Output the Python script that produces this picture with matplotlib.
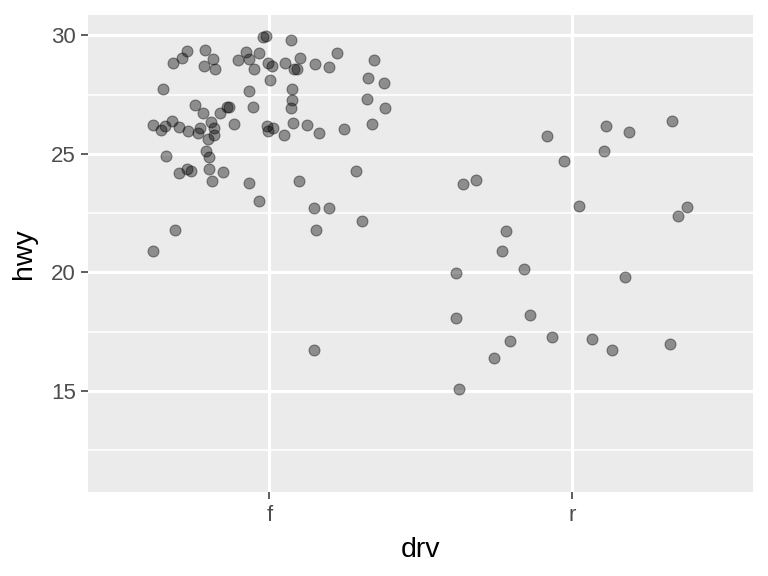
import matplotlib
matplotlib.use("Agg")
import matplotlib.pyplot as plt
from matplotlib.ticker import FixedLocator

plt.rcParams['font.family'] = ['Liberation Sans', 'DejaVu Sans']

categories = ["f", "r"]

# jittered positions (category index 1 = f, 2 = r) and hwy values
f_x = [0.979, 0.989, 0.728, 0.712, 0.682, 0.788, 0.814, 0.784, 0.821, 0.897,
       0.923, 0.933, 0.950, 0.966, 0.649, 0.933, 0.755, 0.781, 0.837, 0.867,
       0.860, 0.946, 0.616, 0.643, 0.656, 0.679, 0.702, 0.732, 0.765, 0.771,
       0.808, 0.817, 0.817, 0.798, 0.883, 0.791, 0.801, 0.659, 1.072, 0.996,
       1.009, 1.052, 1.101, 1.082, 1.091, 1.151, 1.197, 1.223, 1.346, 1.002,
       1.075, 1.326, 1.379, 1.075, 1.072, 1.322, 1.382, 0.992, 0.996, 1.012,
       1.049, 1.078, 1.124, 1.164, 1.247, 1.339, 0.728, 0.742, 0.702, 0.801,
       0.847, 0.811, 0.933, 0.966, 1.098, 1.286, 1.148, 1.197, 1.306, 1.154,
       0.689, 0.616, 1.148]
f_hwy = [29.94, 29.98, 29.35, 29.05, 28.84, 29.39, 29.01, 28.71, 28.59, 28.97,
         29.30, 29.01, 28.59, 29.26, 27.74, 27.66, 27.07, 26.73, 26.73, 26.98,
         26.98, 26.98, 26.22, 26.01, 26.18, 26.39, 26.14, 25.97, 25.89, 26.10,
         26.35, 26.10, 25.80, 25.63, 26.27, 25.13, 24.87, 24.92, 29.81, 28.84,
         28.71, 28.84, 29.05, 28.59, 28.59, 28.80, 28.67, 29.26, 28.97, 28.12,
         27.74, 28.21, 28.00, 27.28, 26.94, 27.32, 26.94, 26.18, 25.97, 26.10,
         25.80, 26.31, 26.22, 25.89, 26.05, 26.27, 24.37, 24.28, 24.20, 24.37,
         24.24, 23.86, 23.78, 23.02, 23.86, 24.28, 22.72, 22.72, 22.17, 21.79,
         21.79, 20.91, 16.73]

r_x = [1.916, 2.111, 2.187, 2.329, 2.105, 1.973, 1.639, 1.682, 2.022, 2.379,
       2.349, 1.781, 1.768, 1.841, 1.616, 2.174, 1.861, 1.616, 1.794, 1.933,
       2.065, 2.131, 2.322, 1.741, 1.626]
r_hwy = [25.76, 26.18, 25.93, 26.39, 25.13, 24.71, 23.73, 23.90, 22.81, 22.76,
         22.38, 21.75, 20.91, 20.15, 19.98, 19.81, 18.21, 18.08, 17.11, 17.28,
         17.19, 16.73, 16.98, 16.39, 15.08]

y_major = [15, 20, 25, 30]
y_minor = [12.5, 17.5, 22.5, 27.5]

fig = plt.figure(figsize=(7.68, 5.76), dpi=100)
ax = fig.add_axes([88.3 / 768, (576 - 491.7) / 576, (752.7 - 88.3) / 768, (491.7 - 15) / 576])
ax.set_facecolor('#EBEBEB')
for s in ax.spines.values():
    s.set_visible(False)

ax.set_xlim(0.4026, 2.595)
ax.set_ylim(10.75, 30.865)

ax.yaxis.set_major_locator(FixedLocator(y_major))
ax.yaxis.set_minor_locator(FixedLocator(y_minor))
ax.set_xticks([1, 2])
ax.set_xticklabels(categories)

ax.grid(True, which='major', color='white', linewidth=2.3)
ax.grid(True, which='minor', axis='y', color='white', linewidth=1.15)
ax.set_axisbelow(True)

ax.tick_params(axis='both', which='major', length=5.3, width=1.1, color='#333333',
               labelcolor='#4D4D4D', labelsize=16, pad=3.5)
ax.tick_params(axis='x', which='major', pad=4.5)
ax.tick_params(axis='both', which='minor', length=0)

ax.scatter(f_x, f_hwy, s=62, color='black', alpha=0.4, linewidths=0.8, edgecolors='black', zorder=3)
ax.scatter(r_x, r_hwy, s=62, color='black', alpha=0.4, linewidths=0.8, edgecolors='black', zorder=3)

ax.set_xlabel('drv', fontsize=20.5, color='black', labelpad=7.5)
ax.set_ylabel('hwy', fontsize=20.5, color='black', labelpad=10.5)

fig.savefig('out.png', dpi=100)
